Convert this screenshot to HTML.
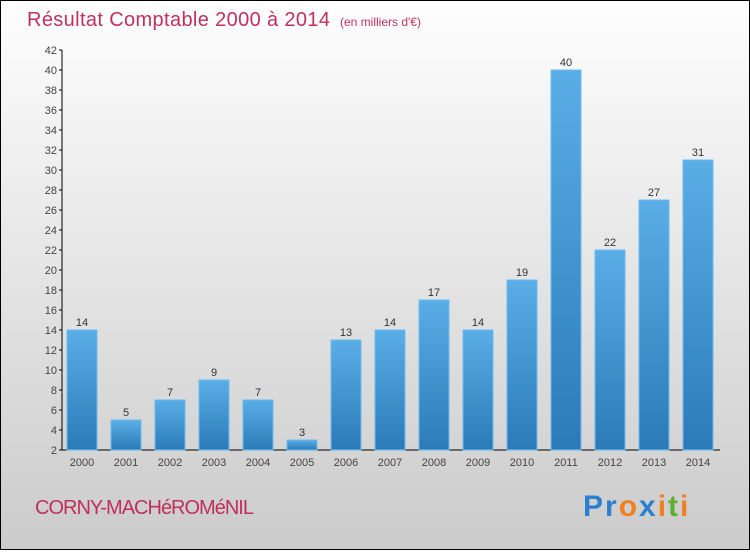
<!DOCTYPE html>
<html><head><meta charset="utf-8"><style>
body{margin:0}
svg text{font-family:"Liberation Sans",sans-serif}
</style></head><body>
<svg id="c" width="750" height="550" xmlns="http://www.w3.org/2000/svg">
<defs>
<linearGradient id="bg" x1="0" y1="0" x2="0" y2="1"><stop offset="0" stop-color="#fefefe"/><stop offset="1" stop-color="#cbcbcb"/></linearGradient>
<linearGradient id="bar" x1="0" y1="0" x2="0" y2="1"><stop offset="0" stop-color="#5aaee6"/><stop offset="1" stop-color="#2a7bb8"/></linearGradient>
</defs>
<rect x="0.5" y="0.5" width="749" height="549" fill="url(#bg)" stroke="#000"/>
<text x="27" y="26" font-size="20" fill="#c0305e" textLength="303">Résultat Comptable 2000 à 2014</text>
<text x="340" y="26" font-size="12" fill="#c0305e">(en milliers d'€)</text>
<g id="axes"></g>
<g id="bars"></g>
<text x="35" y="514" font-size="20" fill="#c0305e" letter-spacing="-1">CORNY-MACHéROMéNIL</text>
<text x="583" y="516" font-size="30" font-weight="bold" letter-spacing="2"><tspan fill="#2a7fd0">Pr</tspan><tspan fill="#f08020">o</tspan><tspan fill="#2a7fd0">x</tspan><tspan fill="#f08020">i</tspan><tspan fill="#60b030">t</tspan><tspan fill="#f08020">i</tspan></text>
</svg>
<script>
const categories=["2000","2001","2002","2003","2004","2005","2006","2007","2008","2009","2010","2011","2012","2013","2014"];
const values=[14,5,7,9,7,3,13,14,17,14,19,40,22,27,31];
const yTicks=[2,4,6,8,10,12,14,16,18,20,22,24,26,28,30,32,34,36,38,40,42];
const NS="http://www.w3.org/2000/svg";
const y=v=>450-(v-2)*10;
const x=i=>82+i*44;
function mk(t,a,p){const e=document.createElementNS(NS,t);for(const k in a)e.setAttribute(k,a[k]);p.appendChild(e);return e;}
const ax=document.getElementById('axes'),bg=document.getElementById('bars');
const yl=mk('line',{x1:62,y1:50,x2:62,y2:450,stroke:'#000'},ax);


const xl=mk('line',{x1:62,y1:450,x2:720,y2:450,stroke:'#000'},ax);


yTicks.forEach(v=>{
 mk('line',{x1:59,y1:y(v),x2:62,y2:y(v),stroke:'#000'},ax);
 const t=mk('text',{x:57,y:y(v)+4,'font-size':11,fill:'#444','text-anchor':'end'},ax);t.textContent=v;
 
 
});
categories.forEach((c,i)=>{
 const r=mk('rect',{x:x(i)-15,y:y(values[i]),width:30,height:450-y(values[i]),fill:'url(#bar)',stroke:'#6cbcf0','stroke-width':1},bg);
 
 
 const l=mk('text',{x:x(i),y:y(values[i])-4,'font-size':11,fill:'#333','text-anchor':'middle'},bg);l.textContent=values[i];
 
 
 const t=mk('text',{x:x(i),y:466,'font-size':11,fill:'#444','text-anchor':'middle'},ax);t.textContent=c;
 
 
});
</script>
</body></html>
